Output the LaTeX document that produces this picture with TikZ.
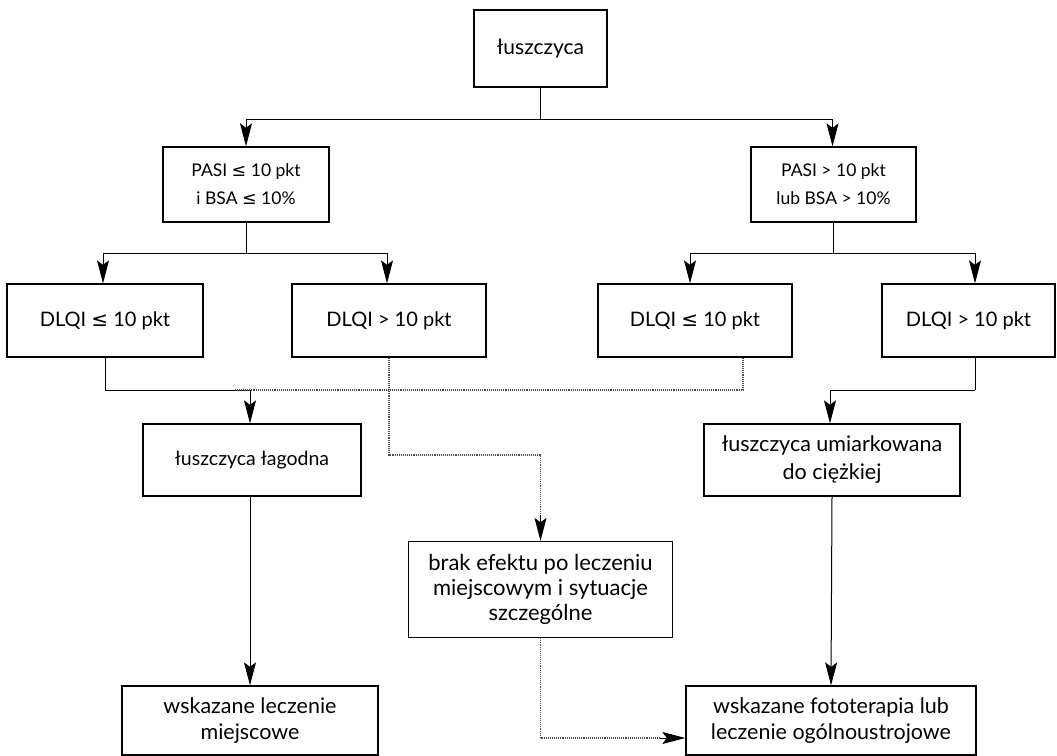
\documentclass[tikz,border=0pt]{standalone}
\usepackage{fontspec}
\setmainfont{Lato}
\newfontfamily\symfont{DejaVu Sans}
\usetikzlibrary{arrows.meta}
\newcommand{\lesym}{{\symfont ≤}}
\begin{document}
\begin{tikzpicture}[x=1pt,y=-1pt,
  box/.style={draw, line width=1.3pt, align=center, inner sep=0pt},
  arr/.style={-{Stealth[length=23pt,width=12pt,inset=4.5pt,black]}, line width=1pt},
  ln/.style={line width=1pt},
  dot/.style={densely dotted, line width=1.1pt, draw=black!70}]
\useasboundingbox (0,0) rectangle (1057,755);
\node[box, minimum width=133pt, minimum height=77pt, font=\fontsize{21}{26}\selectfont] (root) at (540.5,48.5) {łuszczyca};
\node[box, minimum width=166pt, minimum height=75pt, font=\fontsize{17.5}{28}\selectfont] (pasiL) at (246,184.5) {PASI \lesym{} 10 pkt\\i BSA \lesym{} 10\%};
\node[box, minimum width=165pt, minimum height=75pt, font=\fontsize{17.5}{28}\selectfont] (pasiR) at (833.5,184.5) {PASI > 10 pkt\\lub BSA > 10\%};
\node[box, minimum width=196pt, minimum height=73pt, font=\fontsize{20}{24}\selectfont] (d1) at (105,320.5) {DLQI \lesym{} 10 pkt};
\node[box, minimum width=194pt, minimum height=73pt, font=\fontsize{20}{24}\selectfont] (d2) at (389,320.5) {DLQI > 10 pkt};
\node[box, minimum width=194pt, minimum height=73pt, font=\fontsize{20}{24}\selectfont] (d3) at (695,320.5) {DLQI \lesym{} 10 pkt};
\node[box, minimum width=173pt, minimum height=73pt, font=\fontsize{20}{24}\selectfont] (d4) at (968.5,320.5) {DLQI > 10 pkt};
\node[box, minimum width=218pt, minimum height=72pt, font=\fontsize{19.5}{25}\selectfont] (mild) at (252,460) {łuszczyca łagodna};
\node[box, minimum width=256pt, minimum height=72pt, font=\fontsize{21.5}{28}\selectfont] (mod) at (832,460) {łuszczyca umiarkowana\\do ciężkiej};
\node[box, minimum width=264pt, minimum height=96pt, font=\fontsize{22}{25}\selectfont] (brak) at (540.5,589.5) {brak efektu po leczeniu\\miejscowym i sytuacje\\szczególne};
\node[box, minimum width=256pt, minimum height=69pt, font=\fontsize{21.5}{26}\selectfont] (wlm) at (250,720.5) {wskazane leczenie\\miejscowe};
\node[box, minimum width=290pt, minimum height=69pt, font=\fontsize{21.5}{26}\selectfont] (wfo) at (831,720.5) {wskazane fototerapia lub\\leczenie ogólnoustrojowe};
% root to PASI
\coordinate (j0) at (540.5,119);
\draw[ln] (root.south) -- (j0);
\draw[arr] (j0) -| (pasiL.north);
\draw[arr] (j0) -| ([xshift=-1pt]pasiR.north);
% PASI left to DLQI
\coordinate (j1) at (246,253);
\draw[ln] (pasiL.south) -- (j1);
\draw[arr] (j1) -| ([xshift=-2pt]d1.north);
\draw[arr] (j1) -| ([xshift=-2pt]d2.north);
% PASI right to DLQI
\coordinate (j2) at (833,253);
\draw[ln] ([xshift=-0.5pt]pasiR.south) -- (j2);
\draw[arr] (j2) -| ([xshift=-5pt]d3.north);
\draw[arr] (j2) -| ([xshift=6.5pt]d4.north);
% DLQI to mild / moderate
\coordinate (j3) at (105,390);
\coordinate (j3e) at (235,390);
\draw[ln] (d1.south) -- (j3);
\draw[arr] (j3) -| ([xshift=-2pt]mild.north);
\coordinate (j4) at (743,390);
\draw[dot] ([xshift=48pt]d3.south) -- (j4) -- (j3e);
\coordinate (j5) at (975,390);
\draw[ln] ([xshift=6.5pt]d4.south) -- (j5);
\draw[arr] (j5) -| ([xshift=-2pt]mod.north);
% DLQI > left to brak
\coordinate (j6) at (389,455);
\coordinate (j6t) at (540.5,515);
\draw[dot] (d2.south) -- (j6) -| (j6t);
\draw[arr] (j6t) -- (brak.north);
% to bottom
\draw[arr] ([xshift=-2pt]mild.south) -- (wlm.north);
\draw[arr] (mod.south) -- (wfo.north);
\coordinate (j7) at (540.5,738);
\coordinate (j7t) at (660,738);
\draw[dot] (brak.south) -- (j7) -- (j7t);
\draw[arr] (j7t) -- (j7 -| wfo.west);
\end{tikzpicture}
\end{document}
